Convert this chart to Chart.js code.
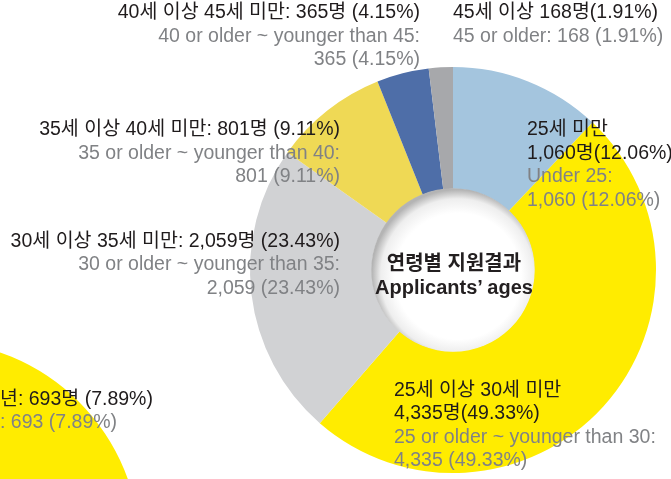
<!DOCTYPE html>
<html>
<head>
<meta charset="utf-8">
<script src="https://cdn.jsdelivr.net/npm/chart.js@4/dist/chart.umd.min.js"></script>
<style>
  html, body { margin: 0; padding: 0; background: #ffffff; }
  body { width: 671px; height: 479px; position: relative; overflow: hidden; }
  #main { position: absolute; left: 0; top: 0; }
  #other { position: absolute; left: -276px; top: 341px; }
  #labels { position: absolute; left: 0; top: 0; pointer-events: none; }
  #labels text { font-family: "Liberation Sans", "Noto Sans CJK KR", sans-serif; font-size: 19.5px; }
  #labels .k { fill: #1f1b1c; }
  #labels .g { fill: #808285; }
  #labels .c { fill: #231f20; font-weight: bold; font-size: 20px; }
</style>
</head>
<body>
<canvas id="other" width="416" height="416"></canvas>
<canvas id="main" width="671" height="479"></canvas>
<svg id="labels" width="671" height="479" xmlns="http://www.w3.org/2000/svg"></svg>
<script>
// ---- data ----
const categories = ['25세 미만', '25세 이상 30세 미만', '30세 이상 35세 미만', '35세 이상 40세 미만', '40세 이상 45세 미만', '45세 이상'];
const englishLabels = ['Under 25', '25 or older ~ younger than 30', '30 or older ~ younger than 35', '35 or older ~ younger than 40', '40 or older ~ younger than 45', '45 or older'];
const applicants = [1060, 4335, 2059, 801, 365, 168];
const percents = [12.06, 49.33, 23.43, 9.11, 4.15, 1.91];
const sliceColors = ['#a4c5de', '#ffec00', '#d1d2d4', '#efd955', '#4e6ea8', '#a7a8ab'];
const centerTitle = ['연령별 지원결과', 'Applicants\u2019 ages'];
// partial neighbouring chart visible at bottom-left
const otherCategoryLabel = '년';
const otherCount = 693;
const otherPercent = 7.89;
const otherVisible = [1];

const fmt = n => n.toLocaleString('en-US');
const pct = p => p.toFixed(2) + '%';

// ---- inner shaded disc plugin ----
const holePlugin = {
  id: 'hole',
  afterDatasetsDraw(chart) {
    const arc = chart.getDatasetMeta(0).data[0];
    if (!arc) return;
    const { x, y, innerRadius } = arc.getProps(['x', 'y', 'innerRadius'], true);
    const ctx = chart.ctx;
    ctx.save();
    const g = ctx.createRadialGradient(x + 8, y + 10, 0, x + 4, y + 5, innerRadius + 4);
    g.addColorStop(0, '#ffffff');
    g.addColorStop(0.74, '#ffffff');
    g.addColorStop(0.9, '#eeeeee');
    g.addColorStop(1, '#b4b4b4');
    ctx.beginPath();
    ctx.arc(x, y, innerRadius + 0.5, 0, Math.PI * 2);
    ctx.fillStyle = g;
    ctx.fill();
    ctx.restore();
  }
};

new Chart(document.getElementById('other'), {
  type: 'doughnut',
  data: { labels: [otherCategoryLabel], datasets: [{ data: otherVisible, backgroundColor: ['#ffec00'], borderWidth: 0 }] },
  options: {
    responsive: false, animation: false, cutout: '40%',
    layout: { padding: 0 },
    plugins: { legend: { display: false }, tooltip: { enabled: false } }
  }
});

new Chart(document.getElementById('main'), {
  type: 'doughnut',
  data: {
    labels: categories,
    datasets: [{ data: applicants, backgroundColor: sliceColors, borderWidth: 0 }]
  },
  options: {
    responsive: false, animation: false, cutout: '40%',
    layout: { padding: { left: 250, right: 15, top: 67, bottom: 6 } },
    plugins: { legend: { display: false }, tooltip: { enabled: false } }
  },
  plugins: [holePlugin]
});

// ---- labels (real SVG text) ----
const svg = document.getElementById('labels');
function t(str, x, y, cls, anchor) {
  const el = document.createElementNS('http://www.w3.org/2000/svg', 'text');
  el.setAttribute('x', x); el.setAttribute('y', y);
  el.setAttribute('class', cls);
  el.setAttribute('text-anchor', anchor || 'start');
  el.textContent = str;
  svg.appendChild(el);
}
// 40-45 (index 4), right aligned
t(`${categories[4]}: ${fmt(applicants[4])}명 (${pct(percents[4])})`, 420, 18, 'k', 'end');
t(`${englishLabels[4]}:`, 420, 41.5, 'g', 'end');
t(`${fmt(applicants[4])} (${pct(percents[4])})`, 420, 65, 'g', 'end');
// 45+ (index 5)
t(`${categories[5]} ${fmt(applicants[5])}명(${pct(percents[5])})`, 453, 18, 'k');
t(`${englishLabels[5]}: ${fmt(applicants[5])} (${pct(percents[5])})`, 453, 41.5, 'g');
// 35-40 (index 3)
t(`${categories[3]}: ${fmt(applicants[3])}명 (${pct(percents[3])})`, 340, 135, 'k', 'end');
t(`${englishLabels[3]}:`, 340, 158.5, 'g', 'end');
t(`${fmt(applicants[3])} (${pct(percents[3])})`, 340, 182, 'g', 'end');
// under 25 (index 0)
t(categories[0], 527, 135, 'k');
t(`${fmt(applicants[0])}명(${pct(percents[0])})`, 527, 158.5, 'k');
t(`${englishLabels[0]}:`, 527, 182, 'g');
t(`${fmt(applicants[0])} (${pct(percents[0])})`, 527, 205.5, 'g');
// 30-35 (index 2)
t(`${categories[2]}: ${fmt(applicants[2])}명 (${pct(percents[2])})`, 340, 246.5, 'k', 'end');
t(`${englishLabels[2]}:`, 340, 270, 'g', 'end');
t(`${fmt(applicants[2])} (${pct(percents[2])})`, 340, 293.5, 'g', 'end');
// 25-30 (index 1)
t(categories[1], 394, 396, 'k');
t(`${fmt(applicants[1])}명(${pct(percents[1])})`, 394, 419, 'k');
t(`${englishLabels[1]}:`, 394, 443, 'g');
t(`${fmt(applicants[1])} (${pct(percents[1])})`, 394, 466, 'g');
// neighbouring chart fragment
t(`${otherCategoryLabel}: ${fmt(otherCount)}명 (${pct(otherPercent)})`, 0, 405, 'k');
t(`: ${fmt(otherCount)} (${pct(otherPercent)})`, 0, 428, 'g');
// center title
t(centerTitle[0], 454, 270, 'c', 'middle');
t(centerTitle[1], 454, 294, 'c', 'middle');
</script>
</body>
</html>
